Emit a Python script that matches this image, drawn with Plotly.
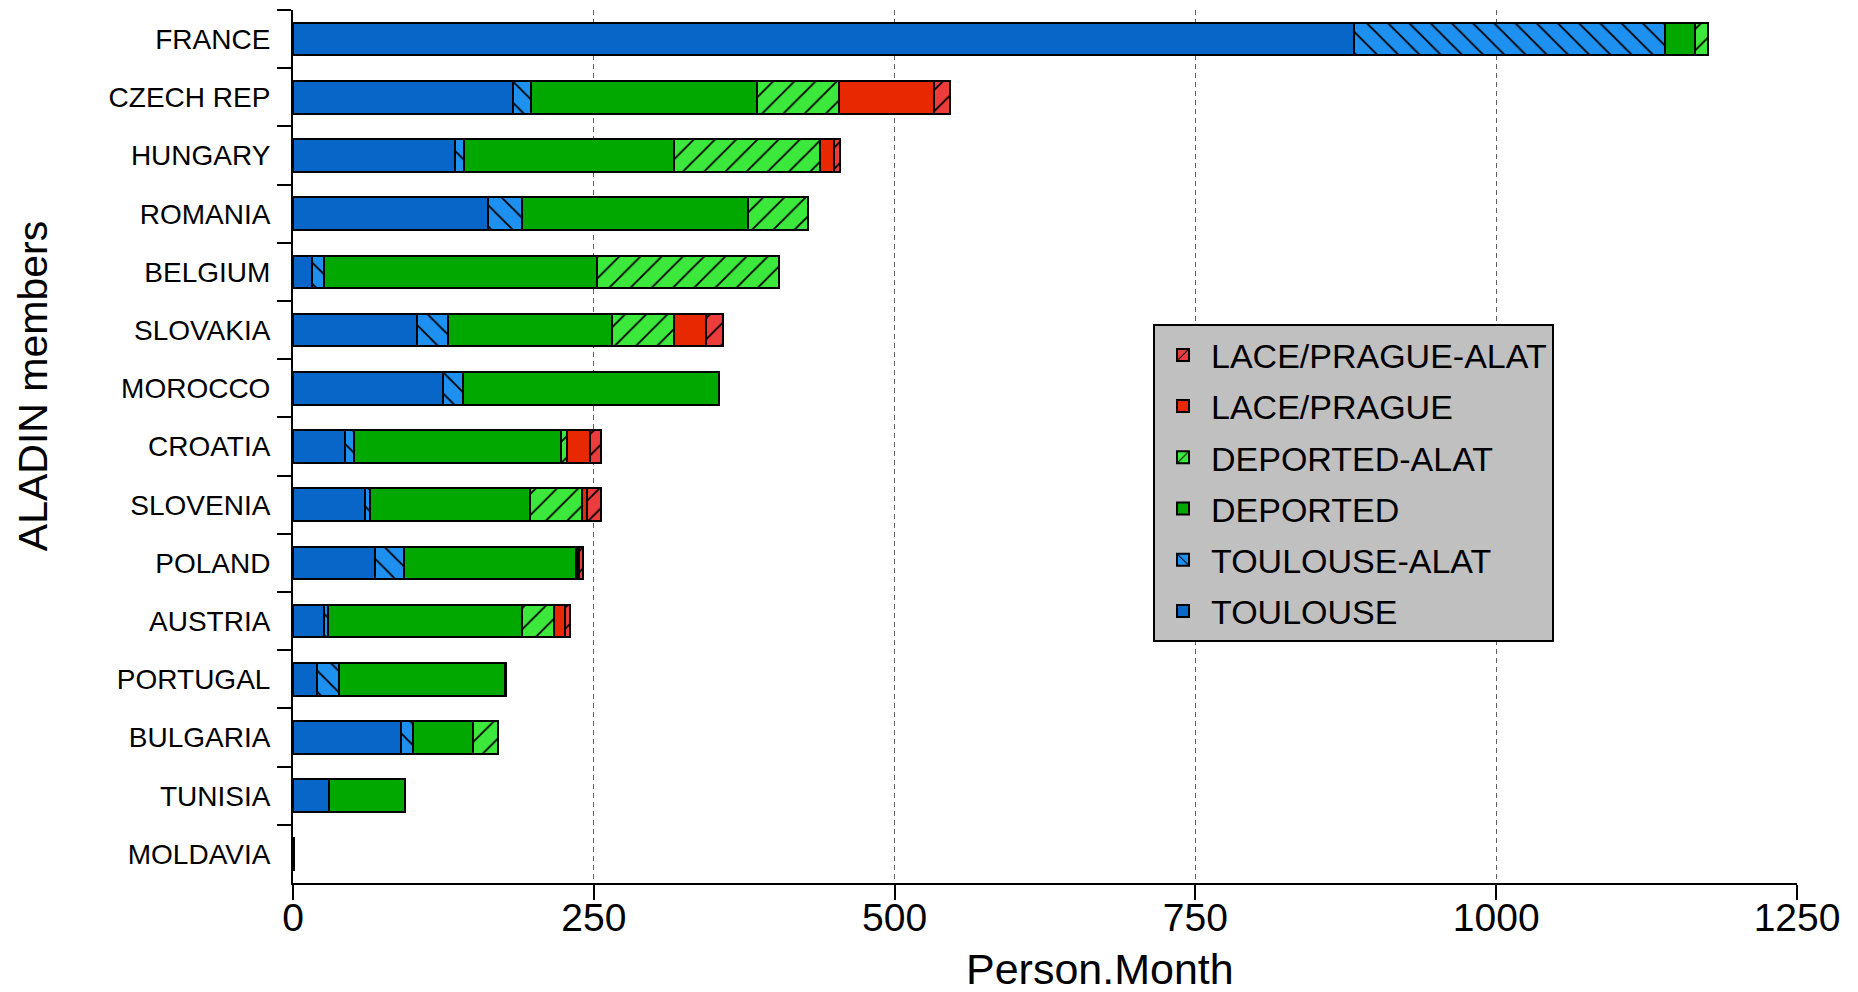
import plotly.graph_objects as go

countries = ["FRANCE", "CZECH REP", "HUNGARY", "ROMANIA", "BELGIUM", "SLOVAKIA",
             "MOROCCO", "CROATIA", "SLOVENIA", "POLAND", "AUSTRIA", "PORTUGAL",
             "BULGARIA", "TUNISIA", "MOLDAVIA"]

toulouse       = [882, 183, 135, 162, 16, 103, 125, 43, 60, 68, 26, 20, 90, 30, 1]
toulouse_alat  = [258, 15, 7, 28, 10, 26, 16, 8, 4, 24, 3, 18, 10, 0, 0]
deported       = [25, 188, 175, 188, 227, 136, 213, 172, 133, 143, 161, 138, 50, 63, 0]
deported_alat  = [11, 68, 121, 50, 151, 52, 0, 5, 43, 1, 27, 1, 20, 0, 0]
lace_prague    = [0, 79, 12, 0, 0, 26, 0, 19, 4, 2, 9, 0, 0, 0, 0]
lace_prague_alat = [0, 13, 5, 0, 0, 14, 0, 9, 12, 3, 4, 0, 0, 0, 0]

series = [
    ("TOULOUSE", toulouse, "#0866c8", None),
    ("TOULOUSE-ALAT", toulouse_alat, "#1e90f0", "\\"),
    ("DEPORTED", deported, "#00a800", None),
    ("DEPORTED-ALAT", deported_alat, "#3ce83c", "/"),
    ("LACE/PRAGUE", lace_prague, "#e82800", None),
    ("LACE/PRAGUE-ALAT", lace_prague_alat, "#ec3c3c", "/"),
]

FONT = "Liberation Sans, Arial, sans-serif"

fig = go.Figure()
n = len(series)
for i, (name, vals, color, hatch) in enumerate(series):
    marker = dict(color=color, line=dict(color="black", width=2))
    if hatch:
        marker["pattern"] = dict(shape=hatch, fgcolor="black", bgcolor=color,
                                 size=15, solidity=0.12, fillmode="replace")
    fig.add_trace(go.Bar(
        y=countries, x=vals, name=name, orientation="h",
        marker=marker, legendgroup=name, legendrank=n - i,
    ))

fig.update_layout(
    width=1858, height=992,
    barmode="stack", bargap=0.44,
    plot_bgcolor="white", paper_bgcolor="white",
    margin=dict(l=285, r=69, t=2, b=117, autoexpand=False),
    font=dict(family=FONT, color="black"),
    legend=dict(
        x=0.5718, y=0.640, xanchor="left", yanchor="top",
        bgcolor="#c0c0c0", bordercolor="black", borderwidth=2,
        font=dict(size=34, family=FONT, color="black"),
        traceorder="grouped", tracegroupgap=4, itemwidth=46,
    ),
    xaxis=dict(
        range=[0, 1250], tickvals=[0, 250, 500, 750, 1000, 1250],
        showgrid=True, gridcolor="#606060", griddash="5px,4px", gridwidth=1,
        showline=True, linecolor="black", linewidth=2,
        ticks="outside", ticklen=15, tickwidth=2, tickcolor="black",
        tickfont=dict(size=39, family=FONT), zeroline=False,
        ticklabelstandoff=-16,
    ),
    yaxis=dict(
        autorange="reversed", showline=True, linecolor="black", linewidth=2,
        ticks="outside", tickson="boundaries", ticklen=14, tickwidth=2, tickcolor="black",
        tickfont=dict(size=28, family=FONT), ticklabelstandoff=15, showgrid=False,
    ),
    annotations=[
        dict(text="ALADIN members", xref="paper", yref="paper",
             x=-0.1729, y=0.569, xanchor="center", yanchor="middle",
             textangle=-90, showarrow=False, font=dict(size=41, family=FONT, color="black")),
        dict(text="Person.Month", xref="paper", yref="paper",
             x=0.5365, y=-0.099, xanchor="center", yanchor="middle",
             showarrow=False, font=dict(size=43, family=FONT, color="black")),
    ],
)

fig.write_html("out.html")
